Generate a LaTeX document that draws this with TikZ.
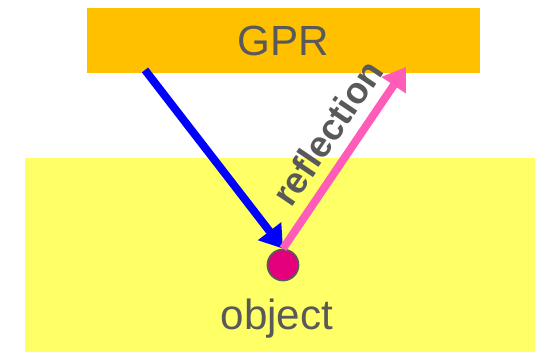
\documentclass[tikz,border=0pt]{standalone}
\usepackage{fontspec}
\setmainfont{Liberation Sans}
\usepackage{xcolor}
\definecolor{radar}{RGB}{255,192,0}
\definecolor{soil}{RGB}{255,255,102}
\definecolor{textgray}{RGB}{89,89,89}
\definecolor{echo}{RGB}{255,91,184}
\definecolor{target}{RGB}{228,0,124}
\usepackage{tikz}
\usetikzlibrary{arrows.meta, positioning, calc}

\tikzset{
    wave/.style={line width=4.5pt, -{Triangle[length=0.44cm, width=0.56cm]}},
    bigtext/.style={font=\fontsize{24}{28}\selectfont, text=textgray}
}

\begin{document}
\begin{tikzpicture}
        \useasboundingbox (0, 0) rectangle (10.7, 7.04);

        % Ground
        \fill[soil] (0.5, 0) rectangle (10.7, 3.88);

        % Radar
        \node[fill=radar, minimum width=7.86cm, minimum height=1.3cm, inner sep=0pt, bigtext] (gpr) at (5.67, 6.23) {GPR};

        % Buried object
        \node[circle, fill=target, draw=textgray, line width=1pt, minimum size=0.62cm, inner sep=0pt] (object) at (5.66, 1.74) {};
        \node[bigtext] (objlabel) at (5.54, 0.66) {object};

        % Waves
        \coordinate (tx) at (2.9, 5.64);
        \coordinate (rx) at (8.12, 5.7);
        \draw[wave, blue] (tx) -- (object.north);
        \draw[wave, echo] (object.north) -- (rx)
            node[pos=0.55, sloped, above=0.1cm, font=\fontsize{21}{25}\selectfont\bfseries, text=textgray] (refl) {reflection};
    \end{tikzpicture}
\end{document}
